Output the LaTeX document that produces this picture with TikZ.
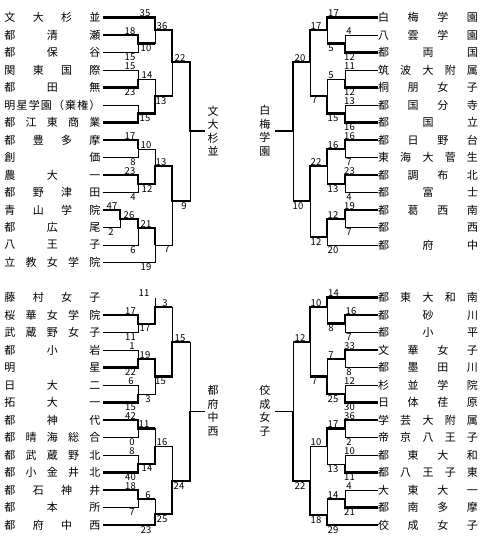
\documentclass[tikz,border=0pt]{standalone}
\usepackage{fontspec}
\setmainfont{Noto Sans CJK JP}
\newcommand{\nm}[2][96pt]{\makebox[#1][s]{\spaceskip=0pt plus 1fil #2}}

\begin{document}
\begin{tikzpicture}[x=1pt,y=-1pt,
  tml/.style={inner xsep=0pt,outer xsep=2.5pt,inner ysep=0pt,anchor=east,font=\fontsize{11}{11}\selectfont},
  tmr/.style={inner xsep=0pt,outer xsep=0pt,inner ysep=0pt,anchor=west,font=\fontsize{11}{11}\selectfont},
  wlbl/.style={align=center,inner ysep=0pt,font=\fontsize{11}{13.5}\selectfont},
  sc/.style={inner sep=0pt,font=\fontsize{9.5}{9.5}\selectfont},
  up/.style={sc,anchor=south},
  dn/.style={sc,anchor=north},
  lose/.style={line width=.9pt},
  win/.style={line width=2.2pt}]
\path[use as bounding box,fill=white](0,0) rectangle (492,546);

% top left
\node[tml](tl1) at (103,17.5){\nm{文 大 杉 並}};
\node[tml](tl2) at (103,35){\nm{都 清 瀬}};
\node[tml](tl3) at (103,52.5){\nm{都 保 谷}};
\node[tml](tl4) at (103,70){\nm{関 東 国 際}};
\node[tml](tl5) at (103,87.5){\nm{都 田 無}};
\node[tml](tl6) at (103,105){\nm{明 星 学 園 （ 棄 権 ）}};
\node[tml](tl7) at (103,122.5){\nm{都 江 東 商 業}};
\node[tml](tl8) at (103,140){\nm{都 豊 多 摩}};
\node[tml](tl9) at (103,157.5){\nm{創 価}};
\node[tml](tl10) at (103,175){\nm{農 大 一}};
\node[tml](tl11) at (103,192.5){\nm{都 野 津 田}};
\node[tml](tl12) at (103,210){\nm{青 山 学 院}};
\node[tml](tl13) at (103,227.5){\nm{都 広 尾}};
\node[tml](tl14) at (103,245){\nm{八 王 子}};
\node[tml](tl15) at (103,262.5){\nm{立 教 女 学 院}};
\node[wlbl,anchor=west,inner xsep=2.5pt](tlw) at (205,131){文\\大\\杉\\並};
\coordinate(tla1) at (138,43.5);
\coordinate(tla2) at (138,79);
\coordinate(tla3) at (138,113.5);
\coordinate(tla4) at (138,149);
\coordinate(tla5) at (138,184);
\coordinate(tlz) at (120,219);
\coordinate(tla6) at (138,228);
\coordinate(tlb1) at (155,30);
\coordinate(tlb2) at (155,96);
\coordinate(tlb3) at (155,166);
\coordinate(tlb4) at (155,245);
\coordinate(tlc1) at (172,62);
\coordinate(tlc2) at (172,201);
\coordinate(tld) at (190,131);
\draw[lose](tl1.east) -| (tlb1) (tl2.east) -| (tla1) (tl3.east) -| (tla1) (tla1) -| (tlb1)
  (tl4.east) -| (tla2) (tl5.east) -| (tla2) (tl6.east) -| (tla3) (tl7.east) -| (tla3)
  (tla2) -| (tlb2) (tla3) -| (tlb2) (tlb1) -| (tlc1) (tlb2) -| (tlc1)
  (tl8.east) -| (tla4) (tl9.east) -| (tla4) (tl10.east) -| (tla5) (tl11.east) -| (tla5)
  (tla4) -| (tlb3) (tla5) -| (tlb3) (tl12.east) -| (tlz) (tl13.east) -| (tlz)
  (tlz) -| (tla6) (tl14.east) -| (tla6) (tla6) -| (tlb4) (tl15.east) -| (tlb4)
  (tlb3) -| (tlc2) (tlb4) -| (tlc2) (tlc1) -| (tld) (tlc2) -| (tld);
\draw[win](tl1.east) -| (tlb1) -| (tlc1) -| (tld) -- (tlw.west);
\draw[win](tl2.east) -| (tla1) -- (tla1 -| tlb1);
\draw[win](tl5.east) -| (tla2);
\draw[win](tl7.east) -| (tla3) -| (tlb2) -- (tlb2 -| tlc1);
\draw[win](tl8.east) -| (tla4);
\draw[win](tl10.east) -| (tla5) -| (tlb3) -| (tlc2) -- (tlc2 -| tld);
\draw[win](tl12.east) -| (tlz) -| (tla6) -| (tlb4);
\node[up](tls1) at (145,17){35};
\node[up](tls2) at (162,29.5){36};
\node[up](tls3) at (130,34.5){18};
\node[dn](tls4) at (146,44.5){10};
\node[dn](tls5) at (130,53.5){15};
\node[up](tls6) at (130,69.5){15};
\node[up](tls7) at (147,78.5){14};
\node[dn](tls8) at (130,88.5){23};
\node[dn](tls9) at (161,97){13};
\node[dn](tls10) at (145,114.5){15};
\node[up](tls11) at (180,61.5){22};
\node[up](tls12) at (130,139.5){17};
\node[up](tls13) at (146,148.5){10};
\node[dn](tls14) at (133,158.5){8};
\node[up](tls15) at (161,165.5){13};
\node[up](tls16) at (130,174.5){23};
\node[dn](tls17) at (147,185){12};
\node[dn](tls18) at (133,193.5){4};
\node[up](tls19) at (112,209.5){47};
\node[up](tls20) at (129,218.5){26};
\node[dn](tls21) at (111,228.5){2};
\node[up](tls22) at (146,227.5){21};
\node[dn](tls23) at (133,246){6};
\node[dn](tls24) at (167,246){7};
\node[dn](tls25) at (146,263.5){19};
\node[dn](tls26) at (184,202){9};

% top right
\node[tmr](tr1) at (378,17.5){\nm[100pt]{白 梅 学 園}};
\node[tmr](tr2) at (378,35){\nm[100pt]{八 雲 学 園}};
\node[tmr](tr3) at (378,52.5){\nm[100pt]{都 両 国}};
\node[tmr](tr4) at (378,70){\nm[100pt]{筑 波 大 附 属}};
\node[tmr](tr5) at (378,87.5){\nm[100pt]{桐 朋 女 子}};
\node[tmr](tr6) at (378,105){\nm[100pt]{都 国 分 寺}};
\node[tmr](tr7) at (378,122.5){\nm[100pt]{都 国 立}};
\node[tmr](tr8) at (378,140){\nm[100pt]{都 日 野 台}};
\node[tmr](tr9) at (378,157.5){\nm[100pt]{東 海 大 菅 生}};
\node[tmr](tr10) at (378,175){\nm[100pt]{都 調 布 北}};
\node[tmr](tr11) at (378,192.5){\nm[100pt]{都 富 士}};
\node[tmr](tr12) at (378,210){\nm[100pt]{都 葛 西 南}};
\node[tmr](tr13) at (378,227.5){\nm[100pt]{都 西}};
\node[tmr](tr14) at (378,245){\nm[100pt]{都 府 中}};
\node[wlbl,anchor=east,inner xsep=4.5pt](trw) at (275,131){白\\梅\\学\\園};
\coordinate(tra1) at (345,43.5);
\coordinate(tra2) at (345,79);
\coordinate(tra3) at (345,113.5);
\coordinate(tra4) at (345,149);
\coordinate(tra5) at (345,184);
\coordinate(tra6) at (345,219);
\coordinate(trb1) at (327,30);
\coordinate(trb2) at (327,96);
\coordinate(trb3) at (327,166);
\coordinate(trb4) at (327,237);
\coordinate(trc1) at (310,62);
\coordinate(trc2) at (310,201);
\coordinate(trd) at (293,131);
\draw[lose](tr1.west) -| (trb1) (tr2.west) -| (tra1) (tr3.west) -| (tra1) (tra1) -| (trb1)
  (tr4.west) -| (tra2) (tr5.west) -| (tra2) (tr6.west) -| (tra3) (tr7.west) -| (tra3)
  (tra2) -| (trb2) (tra3) -| (trb2) (trb1) -| (trc1) (trb2) -| (trc1)
  (tr8.west) -| (tra4) (tr9.west) -| (tra4) (tr10.west) -| (tra5) (tr11.west) -| (tra5)
  (tra4) -| (trb3) (tra5) -| (trb3) (tr12.west) -| (tra6) (tr13.west) -| (tra6)
  (tra6) -| (trb4) (tr14.west) -| (trb4) (trb3) -| (trc2) (trb4) -| (trc2)
  (trc1) -| (trd) (trc2) -| (trd);
\draw[win](tr1.west) -| (trb1) -| (trc1) -| (trd) -- (trw.east);
\draw[win](tr3.west) -| (tra1) -- (tra1 -| trb1);
\draw[win](tr5.west) -| (tra2);
\draw[win](tr7.west) -| (tra3) -| (trb2) -- (trb2 -| trc1);
\draw[win](tr8.west) -| (tra4) -| (trb3) -| (trc2) -- (trc2 -| trd);
\draw[win](tr10.west) -| (tra5) -- (tra5 -| trb3);
\draw[win](tr12.west) -| (tra6) -| (trb4) -- (trb4 -| trc2);
\node[up](trs1) at (333.5,17){17};
\node[up](trs2) at (316,29.5){17};
\node[up](trs3) at (349,34.5){4};
\node[dn](trs4) at (331,44.5){5};
\node[dn](trs5) at (349.5,53.5){12};
\node[up](trs6) at (300,61.5){20};
\node[up](trs7) at (349.5,69.5){11};
\node[up](trs8) at (331,78.5){5};
\node[dn](trs9) at (349.5,88.5){12};
\node[dn](trs10) at (314.5,97){7};
\node[up](trs11) at (349.5,104.5){13};
\node[dn](trs12) at (333,114.5){15};
\node[dn](trs13) at (349.5,123.5){16};
\node[up](trs14) at (349.5,139.5){16};
\node[up](trs15) at (333,148.5){16};
\node[dn](trs16) at (349,158.5){7};
\node[up](trs17) at (316,165.5){22};
\node[up](trs18) at (349.5,174.5){23};
\node[dn](trs19) at (333,185){13};
\node[dn](trs20) at (349,193.5){4};
\node[dn](trs21) at (298,202){10};
\node[up](trs22) at (349.5,209.5){19};
\node[up](trs23) at (333,218.5){12};
\node[dn](trs24) at (349,228.5){7};
\node[dn](trs25) at (316,238){12};
\node[dn](trs26) at (333,246){20};

% bottom left
\node[tml](bl1) at (103,297.5){\nm{藤 村 女 子}};
\node[tml](bl2) at (103,315){\nm{桜 華 女 学 院}};
\node[tml](bl3) at (103,332.5){\nm{武 蔵 野 女 子}};
\node[tml](bl4) at (103,350){\nm{都 小 岩}};
\node[tml](bl5) at (103,367.5){\nm{明 星}};
\node[tml](bl6) at (103,385){\nm{日 大 二}};
\node[tml](bl7) at (103,402.5){\nm{拓 大 一}};
\node[tml](bl8) at (103,420){\nm{都 神 代}};
\node[tml](bl9) at (103,437.5){\nm{都 晴 海 総 合}};
\node[tml](bl10) at (103,455){\nm{都 武 蔵 野 北}};
\node[tml](bl11) at (103,472.5){\nm{都 小 金 井 北}};
\node[tml](bl12) at (103,490){\nm{都 石 神 井}};
\node[tml](bl13) at (103,507.5){\nm{都 本 所}};
\node[tml](bl14) at (103,525){\nm{都 府 中 西}};
\node[wlbl,anchor=west,inner xsep=2.5pt](blw) at (205,411){都\\府\\中\\西};
\coordinate(bla1) at (138,324);
\coordinate(bla2) at (138,359);
\coordinate(bla3) at (138,394);
\coordinate(bla4) at (138,428.5);
\coordinate(bla5) at (138,464);
\coordinate(bla6) at (138,499);
\coordinate(blb1) at (155,307);
\coordinate(blb2) at (155,376.5);
\coordinate(blb3) at (155,446);
\coordinate(blb4) at (155,514);
\coordinate(blc1) at (172,342);
\coordinate(blc2) at (172,481);
\coordinate(bld) at (190,411);
\draw[lose](bl1.east -| blb1) -- (blb1) (bl2.east) -| (bla1) (bl3.east) -| (bla1) (bla1) -| (blb1)
  (bl4.east) -| (bla2) (bl5.east) -| (bla2) (bl6.east) -| (bla3) (bl7.east) -| (bla3)
  (bla2) -| (blb2) (bla3) -| (blb2) (blb1) -| (blc1) (blb2) -| (blc1)
  (bl8.east) -| (bla4) (bl9.east) -| (bla4) (bl10.east) -| (bla5) (bl11.east) -| (bla5)
  (bla4) -| (blb3) (bla5) -| (blb3) (bl12.east) -| (bla6) (bl13.east) -| (bla6)
  (bla6) -| (blb4) (bl14.east) -| (blb4) (blb3) -| (blc2) (blb4) -| (blc2)
  (blc1) -| (bld) (blc2) -| (bld) (bld) -- (blw.west);
\draw[win](bl2.east) -| (bla1) -| (blb1) -- (blb1 -| blc1);
\draw[win](bl5.east) -| (bla2) -| (blb2) -| (blc1) -- (blc1 -| bld);
\draw[win](bl7.east) -| (bla3);
\draw[win](bl8.east) -| (bla4) -- (bla4 -| blb3);
\draw[win](bl11.east) -| (bla5) -| (blb3);
\draw[win](bl12.east) -| (bla6) -- (bla6 -| blb4);
\draw[win](bl14.east) -| (blb4) -| (blc2) -| (bld);
\node[up](bls1) at (144,297){11};
\node[up](bls2) at (165,306.5){3};
\node[up](bls3) at (130.5,314.5){17};
\node[dn](bls4) at (145,325){17};
\node[dn](bls5) at (130.5,333.5){11};
\node[up](bls6) at (180,341.5){15};
\node[up](bls7) at (132,349.5){1};
\node[up](bls8) at (145,358.5){19};
\node[dn](bls9) at (130.5,368.5){22};
\node[dn](bls10) at (160.5,377.5){15};
\node[up](bls11) at (131,384.5){6};
\node[dn](bls12) at (148,395){3};
\node[dn](bls13) at (130.5,403.5){15};
\node[up](bls14) at (130.5,419.5){42};
\node[up](bls15) at (144,428){11};
\node[dn](bls16) at (132,438.5){0};
\node[up](bls17) at (162,445.5){16};
\node[up](bls18) at (132,454.5){8};
\node[dn](bls19) at (147,465){14};
\node[dn](bls20) at (130.5,473.5){40};
\node[dn](bls21) at (179,482){24};
\node[up](bls22) at (130.5,489.5){18};
\node[up](bls23) at (148,498.5){6};
\node[dn](bls24) at (132,508.5){7};
\node[dn](bls25) at (162,515){25};
\node[dn](bls26) at (146,526){23};

% bottom right
\node[tmr](br1) at (378,297.5){\nm[100pt]{都 東 大 和 南}};
\node[tmr](br2) at (378,315){\nm[100pt]{都 砂 川}};
\node[tmr](br3) at (378,332.5){\nm[100pt]{都 小 平}};
\node[tmr](br4) at (378,350){\nm[100pt]{文 華 女 子}};
\node[tmr](br5) at (378,367.5){\nm[100pt]{都 墨 田 川}};
\node[tmr](br6) at (378,385){\nm[100pt]{杉 並 学 院}};
\node[tmr](br7) at (378,402.5){\nm[100pt]{日 体 荏 原}};
\node[tmr](br8) at (378,420){\nm[100pt]{学 芸 大 附 属}};
\node[tmr](br9) at (378,437.5){\nm[100pt]{帝 京 八 王 子}};
\node[tmr](br10) at (378,455){\nm[100pt]{都 東 大 和}};
\node[tmr](br11) at (378,472.5){\nm[100pt]{都 八 王 子 東}};
\node[tmr](br12) at (378,490){\nm[100pt]{大 東 大 一}};
\node[tmr](br13) at (378,507.5){\nm[100pt]{都 南 多 摩}};
\node[tmr](br14) at (378,525){\nm[100pt]{佼 成 女 子}};
\node[wlbl,anchor=east,inner xsep=4.5pt](brw) at (275,411){佼\\成\\女\\子};
\coordinate(bra1) at (345,323.5);
\coordinate(bra2) at (345,359);
\coordinate(bra3) at (345,394);
\coordinate(bra4) at (345,428.5);
\coordinate(bra5) at (345,464);
\coordinate(bra6) at (345,499);
\coordinate(brb1) at (327,307);
\coordinate(brb2) at (327,376.5);
\coordinate(brb3) at (327,446);
\coordinate(brb4) at (327,515);
\coordinate(brc1) at (310,342);
\coordinate(brc2) at (310,481);
\coordinate(brd) at (293,411);
\draw[lose](br1.west) -| (brb1) (br2.west) -| (bra1) (br3.west) -| (bra1) (bra1) -| (brb1)
  (br4.west) -| (bra2) (br5.west) -| (bra2) (br6.west) -| (bra3) (br7.west) -| (bra3)
  (bra2) -| (brb2) (bra3) -| (brb2) (brb1) -| (brc1) (brb2) -| (brc1)
  (br8.west) -| (bra4) (br9.west) -| (bra4) (br10.west) -| (bra5) (br11.west) -| (bra5)
  (bra4) -| (brb3) (bra5) -| (brb3) (br12.west) -| (bra6) (br13.west) -| (bra6)
  (bra6) -| (brb4) (br14.west) -| (brb4) (brb3) -| (brc2) (brb4) -| (brc2)
  (brc1) -| (brd) (brc2) -| (brd) (brd) -- (brw.east);
\draw[win](br1.west) -| (brb1) -| (brc1) -- (brc1 -| brd);
\draw[win](br2.west) -| (bra1) -- (bra1 -| brb1);
\draw[win](br4.west) -| (bra2) -- (bra2 -| brb2);
\draw[win](br7.west) -| (bra3) -| (brb2) -- (brb2 -| brc1);
\draw[win](br8.west) -| (bra4) -| (brb3);
\draw[win](br11.west) -| (bra5);
\draw[win](br13.west) -| (bra6) -- (bra6 -| brb4);
\draw[win](br14.west) -| (brb4) -| (brc2) -| (brd);
\node[up](brs1) at (333.5,297){14};
\node[up](brs2) at (316,306.5){10};
\node[up](brs3) at (351,314.5){16};
\node[dn](brs4) at (331,324.5){8};
\node[dn](brs5) at (349,333.5){7};
\node[up](brs6) at (300,341.5){12};
\node[up](brs7) at (349.5,349.5){33};
\node[up](brs8) at (331,358.5){7};
\node[dn](brs9) at (349,368.5){8};
\node[dn](brs10) at (314.5,377.5){7};
\node[up](brs11) at (349.5,384.5){12};
\node[dn](brs12) at (333,395){25};
\node[dn](brs13) at (349.5,403.5){30};
\node[up](brs14) at (349.5,419.5){36};
\node[up](brs15) at (333,428){17};
\node[dn](brs16) at (349,438.5){2};
\node[up](brs17) at (316,445.5){10};
\node[up](brs18) at (349.5,454.5){10};
\node[dn](brs19) at (333,465){13};
\node[dn](brs20) at (349.5,473.5){11};
\node[dn](brs21) at (300,482){22};
\node[up](brs22) at (349,489.5){4};
\node[up](brs23) at (333,498.5){14};
\node[dn](brs24) at (349.5,508.5){21};
\node[dn](brs25) at (316,516){18};
\node[dn](brs26) at (333,526){29};
\end{tikzpicture}
\end{document}
